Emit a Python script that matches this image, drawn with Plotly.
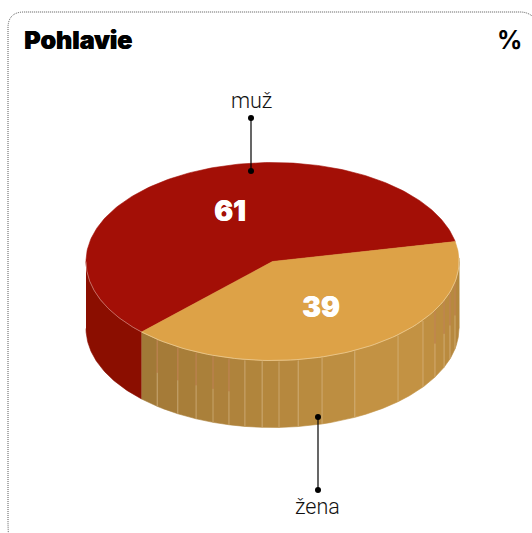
import numpy as np
import plotly.graph_objects as go

# ---- data ----
categories = ["žena", "muž"]
values = [39, 61]
title_text = "Pohlavie"
unit_text = "%"
top_colors = ["#DDA247", "#A30F06"]

# ---- pie geometry (pixels, y down) ----
CX, CY, RX, RY, DEPTH = 272.5, 261.5, 186.5, 99.0, 67.0
START_DEG = 11.6          # where the first slice starts, above the 3 o'clock direction
VIEW_STRETCH = 1.0413     # foreshortening of the tilted view
# where the side panels of the gold slice are split
SLAT_DEG = [-11.9, -17.9, -23.1, -29.4, -36.2, -47.7, -63.8, -74.6, -82.1, -88,
            -93.2, -98.5, -103.5, -108.6, -114.2, -120.5, -128.2]


def ell(deg, dy=0.0):
    t = np.radians(np.asarray(deg, dtype=float))
    return CX + RX * np.cos(t), CY - RY * np.sin(t) + dy


def arc(a, b, dy=0.0, n=80):
    return ell(np.linspace(a, b, n), dy)


boundary = START_DEG - 360 * values[0] / sum(values) * VIEW_STRETCH

fig = go.Figure()


def poly(xs, ys, fill, line=None, width=0):
    fig.add_trace(go.Scatter(
        x=list(xs), y=list(ys), mode="lines", fill="toself", fillcolor=fill,
        line=dict(color=line or fill, width=width if line else 0.6),
        hoverinfo="skip", showlegend=False))


def side(a, b, fill):
    x1, y1 = arc(a, b, 0)
    x2, y2 = arc(b, a, DEPTH)
    poly(np.r_[x1, x2], np.r_[y1, y2], fill)


def mix(c1, c2, t):
    return "rgb(%d,%d,%d)" % tuple(round(p + (q - p) * t) for p, q in zip(c1, c2))


# red side wall, left
side(-180, boundary, "#8B0E00")

# gold side wall, split in panels
edges = [max(START_DEG - 360, boundary)] + SLAT_DEG[::-1] + [0]
dark, light = (160, 120, 54), (198, 148, 68)
for a, b in zip(edges[:-1], edges[1:]):
    mid = (a + b) / 2
    if mid < -50:
        t = (mid - boundary) / (-50 - boundary)
    else:
        t = 1 - 0.55 * (mid + 50) / 50
    side(a, b, mix(dark, light, float(np.clip(t, 0, 1))))

# right end of the wall
side(0, 2.0, "#B08A3C")

# panel seams
for d in SLAT_DEG:
    x, y = ell(d)
    fig.add_trace(go.Scatter(x=[x, x], y=[y + 1, y + DEPTH], mode="lines",
                             line=dict(color="rgba(226,196,150,0.6)", width=0.9),
                             hoverinfo="skip", showlegend=False))
    if d < -100 or d > -30:
        fig.add_trace(go.Scatter(x=[x, x], y=[y + 1, y + DEPTH * 0.5], mode="lines",
                                 line=dict(color="rgba(176,96,50,0.75)", width=0.9),
                                 hoverinfo="skip", showlegend=False))

# top faces
for cat, a, b, col in [(categories[1], START_DEG, boundary + 360, top_colors[1]),
                       (categories[0], boundary, START_DEG, top_colors[0])]:
    x, y = arc(a, b, 0, 200)
    poly(np.r_[CX, x, CX], np.r_[CY, y, CY], col)

# thin light rim on the front edge
x, y = arc(-180, boundary)
fig.add_trace(go.Scatter(x=x, y=y, mode="lines", line=dict(color="#D8A59A", width=0.6),
                         hoverinfo="skip", showlegend=False))
x, y = arc(boundary, 2)
fig.add_trace(go.Scatter(x=x, y=y, mode="lines", line=dict(color="#EBCB96", width=0.8),
                         hoverinfo="skip", showlegend=False))

# leader lines
LEADERS = [((251, 118), (251, 171)), ((318, 417), (318, 490))]
for (x0, y0), (x1, y1) in LEADERS:
    fig.add_trace(go.Scatter(x=[x0, x1], y=[y0, y1], mode="lines+markers",
                             line=dict(color="#000", width=1.2),
                             marker=dict(color="#000", size=6),
                             hoverinfo="skip", showlegend=False))

HEAVY = dict(family="Inter, Roboto, sans-serif", weight=900)
LIGHT = dict(family="Roboto, sans-serif", size=21.5, color="#111", weight=300)


def label(x, y, text, font, anchor="center"):
    fig.add_annotation(x=x, y=y, text=text, showarrow=False, font=font,
                       xanchor=anchor, yanchor="middle", xref="x", yref="y",
                       xshift=0, yshift=0, borderpad=0)


label(23, 40, title_text, dict(HEAVY, size=25, color="#000", shadow="0.6px 0 0 #000"), "left")
label(509, 40, unit_text, dict(HEAVY, size=25, color="#000", weight=700))
label(251, 100, categories[1], LIGHT)
label(317, 506, categories[0], LIGHT)
label(230, 211, str(values[1]), dict(HEAVY, size=28, color="#fff", shadow="0.5px 0 0 #fff"))
label(321, 307, str(values[0]), dict(HEAVY, size=28, color="#fff", shadow="0.5px 0 0 #fff"))

# dotted card outline, open on the right and at the bottom
fig.add_shape(type="path", xref="x", yref="y",
              path="M 9 540 Q 8 532 8 520 L 8 28 Q 8 12 24 12 L 520 12 Q 530 12 536 20",
              line=dict(color="#555555", width=1, dash="1px,1px"))

fig.update_layout(
    width=532, height=533, margin=dict(l=0, r=0, t=0, b=0),
    paper_bgcolor="#fff", plot_bgcolor="#fff", showlegend=False,
    xaxis=dict(range=[0, 532], visible=False, fixedrange=True),
    yaxis=dict(range=[533, 0], visible=False, fixedrange=True),
)
fig.write_html("out.html", config=dict(displayModeBar=False),
               post_script="document.body.style.margin='0';document.documentElement.style.overflow='hidden';")
